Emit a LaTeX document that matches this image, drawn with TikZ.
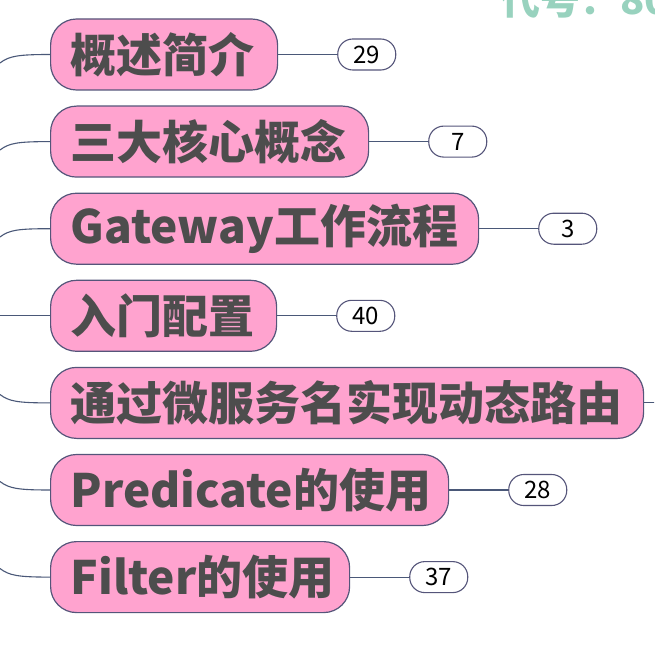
\documentclass[tikz,border=0pt]{standalone}
\usepackage{fontspec}
\usetikzlibrary{positioning}
\newfontfamily\cjk{Noto Sans CJK SC}
\definecolor{topicpink}{HTML}{FFA3CF}
\definecolor{topicline}{HTML}{55557A}
\definecolor{branchline}{HTML}{4A5878}
\definecolor{topictext}{HTML}{4D4D4D}
\definecolor{codegreen}{HTML}{98D2BE}
\tikzset{
  topic/.style={draw=topicline, fill=topicpink, line width=1.2pt,
    rounded corners=26pt, minimum height=71pt, inner xsep=20pt, inner ysep=0pt,
    align=left, anchor=west, text=topictext,
    font=\cjk\bfseries\fontsize{46}{46}\selectfont},
  badge/.style={draw=topicline, fill=white, line width=1.1pt,
    rounded corners=15pt, minimum width=58pt, minimum height=31pt,
    inner sep=0pt, font=\cjk\fontsize{24}{24}\selectfont},
  branch/.style={draw=branchline, line width=1.1pt},
}
\begin{document}
\begin{tikzpicture}[x=1pt, y=-1pt]
    \clip (0,0) rectangle (654,660);% the frame
    \node[font=\cjk\bfseries\fontsize{40}{40}\selectfont, text=codegreen,
        anchor=base west, inner sep=0pt] (code) at (500,15) {代号：808};% cut-off code
    % the topics
    \node[topic, text width=187pt] (t1) at (50,54.5) {概述简介};
    \node[topic, text width=278pt] (t2) at (50,141.6) {三大核心概念};
    \node[topic, text width=388pt] (t3) at (50,228.7) {Gateway工作流程};
    \node[topic, text width=186pt] (t4) at (50,315.8) {入门配置};
    \node[topic, text width=553pt] (t5) at (50,402.9) {通过微服务名实现动态路由};
    \node[topic, text width=358pt] (t6) at (50,490) {Predicate的使用};
    \node[topic, text width=259pt] (t7) at (50,577.1) {Filter的使用};
    % the counts
    \node[badge, right=59pt of t1] (b1) {29};
    \node[badge, right=59pt of t2] (b2) {7};
    \node[badge, right=59pt of t3] (b3) {3};
    \node[badge, right=59pt of t4] (b4) {40};
    \node[badge, right=59pt of t6] (b6) {28};
    \node[badge, right=59pt of t7] (b7) {37};
    \draw[branch] (t1) -- (b1);
    \draw[branch] (t2) -- (b2);
    \draw[branch] (t3) -- (b3);
    \draw[branch] (t4) -- (b4);
    \draw[branch] (t6) -- (b6);
    \draw[branch] (t7) -- (b7);
    \coordinate (e5) at (660,402.9);% runs off the right side
    \draw[branch] (t5) -- (e5);
    % branches from the trunk on the left
    \coordinate (s1) at (0,63);
    \coordinate (s2) at (0,150);
    \coordinate (s3) at (0,237);
    \coordinate (s4) at (0,315.8);
    \coordinate (s5) at (0,394.5);
    \coordinate (s6) at (0,481.5);
    \coordinate (s7) at (0,568.5);
    \draw[branch] (s1) .. controls +(9,-7) and +(-32,0) .. (t1.west);
    \draw[branch] (s2) .. controls +(9,-7) and +(-32,0) .. (t2.west);
    \draw[branch] (s3) .. controls +(9,-7) and +(-32,0) .. (t3.west);
    \draw[branch] (s4) -- (t4.west);
    \draw[branch] (s5) .. controls +(9,7) and +(-32,0) .. (t5.west);
    \draw[branch] (s6) .. controls +(9,7) and +(-32,0) .. (t6.west);
    \draw[branch] (s7) .. controls +(9,7) and +(-32,0) .. (t7.west);
\end{tikzpicture}
\end{document}
